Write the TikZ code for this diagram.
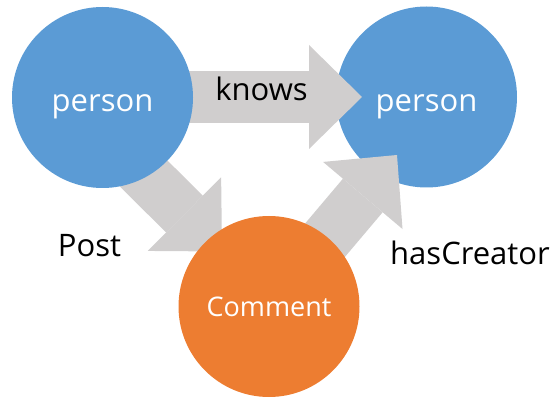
\documentclass[tikz,border=0pt]{standalone}
\usepackage{fontspec}
\setmainfont{Open Sans}
\usetikzlibrary{arrows.meta}
\definecolor{entblue}{HTML}{5B9BD5}
\definecolor{entorange}{HTML}{ED7D31}
\definecolor{relgrey}{HTML}{D0CECE}
\pgfdeclarelayer{bottom}
\pgfdeclarelayer{middle}
\pgfsetlayers{bottom,middle,main}

\begin{document}
\begin{tikzpicture}[x=1pt,y=-1pt,
	ent/.style={circle, minimum size=181pt, inner sep=0pt, text=white, text depth=0pt},
	rel/.style={line width=52pt, draw=relgrey, -{Triangle[length=53pt,width=104pt,line width=0pt]}}]
	    \useasboundingbox (0,0) rectangle (557,398);
	    \begin{scope}[every node/.style={font=\fontsize{31}{37}\selectfont}]
		    \begin{pgfonlayer}{bottom}
			    \node[ent, fill=entblue, text height=28.4pt] (P2) at (426.5,97) {person};
		    \end{pgfonlayer}
		    \node[ent, fill=entblue, text height=28.4pt] (P1) at (102.5,97.5) {person};
		    \node[ent, fill=entorange, text height=20.4pt, font=\fontsize{27}{32}\selectfont] (C) at (269,306.5) {Comment};
		    \coordinate (knowsTip) at (362,97);
		    \coordinate (postTip) at (222,251.5);
		    \coordinate (creatorTip) at (397,155);
		    \begin{pgfonlayer}{middle}
			    \draw[rel] (P1.center |- knowsTip) -- (knowsTip);
			    \draw[rel] ([yshift=-35pt]P1.center) -- (postTip);
			    \draw[rel] (C.center) -- (creatorTip);
		    \end{pgfonlayer}
		    \node[anchor=base] (knows) at (261.5,100.7) {knows};
		    \node[anchor=base] (post) at (89.5,256.7) {Post};
		    \node[anchor=base] (creator) at (470,265) {hasCreator};
	    \end{scope}
	\end{tikzpicture}
\end{document}
